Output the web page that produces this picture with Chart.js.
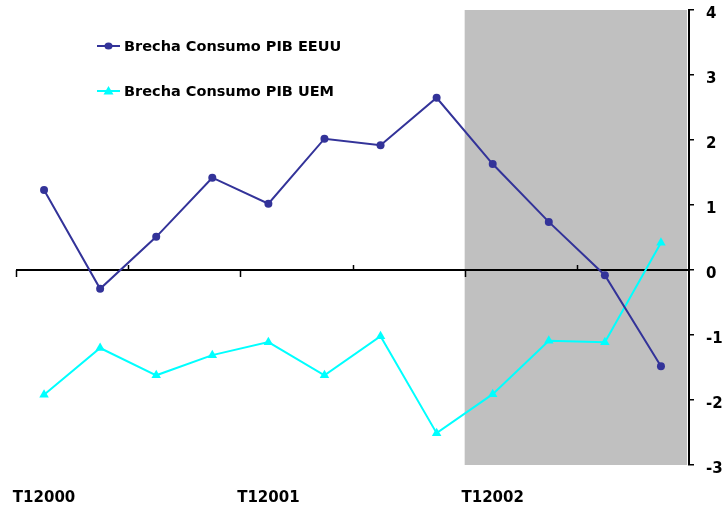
<!DOCTYPE html>
<html><head><meta charset="utf-8">
<script src="https://cdn.jsdelivr.net/npm/chart.js@4"></script>
<style>html,body{margin:0;padding:0;background:#fff;}#wrap{width:728px;height:508px;}</style>
</head><body><div id="wrap"><canvas id="c" width="728" height="508"></canvas></div>
<script>
const categories = ['T12000','T22000','T32000','T42000','T12001','T22001','T32001','T42001','T12002','T22002','T32002','T42002'];
const shownLabels = ['T12000','T12001','T12002'];
const eeuu = [1.23, -0.29, 0.51, 1.42, 1.02, 2.02, 1.92, 2.65, 1.63, 0.74, -0.08, -1.48];
const uem = [-1.92, -1.2, -1.62, -1.31, -1.11, -1.62, -1.02, -2.51, -1.91, -1.09, -1.11, 0.42];
const yTicks = [4, 3, 2, 1, 0, -1, -2, -3];
const seriesNames = ['Brecha Consumo PIB EEUU', 'Brecha Consumo PIB UEM'];
const shadeFrom = 'T12002';

const FONT = 'DejaVu Sans';
const navy = '#333399', cyan = '#00FFFF';

const decor = {
  id: 'decor',
  beforeDatasetsDraw(chart) {
    const {ctx, chartArea: a, scales: {x, y}} = chart;
    ctx.save();
    const idx = categories.indexOf(shadeFrom);
    const sx = x.getPixelForValue(idx - 0.5);
    ctx.fillStyle = '#C0C0C0';
    ctx.fillRect(sx, a.top, a.right - 2 - sx, a.bottom - a.top);
    const y0 = y.getPixelForValue(0);
    ctx.strokeStyle = '#000'; ctx.lineWidth = 2;
    ctx.beginPath(); ctx.moveTo(a.left, y0); ctx.lineTo(a.right, y0); ctx.stroke();
    ctx.lineWidth = 1.5;
    for (let i = 0; i < categories.length; i += 2) {
      const px = Math.round(x.getPixelForValue(i - 0.5)) + 0.5;
      const down = (i % 4 === 0);
      ctx.beginPath(); ctx.moveTo(px, y0); ctx.lineTo(px, down ? y0 + 7 : y0 - 5); ctx.stroke();
    }
    ctx.restore();
  },
  afterDraw(chart) {
    const {ctx} = chart;
    ctx.save();
    ctx.font = 'bold 14.5px "' + FONT + '"';
    ctx.textBaseline = 'middle';
    const rows = [{y: 46, c: navy, s: 'circle', r: 3.5}, {y: 91, c: cyan, s: 'triangle', r: 5}];
    rows.forEach((row, i) => {
      ctx.strokeStyle = row.c; ctx.lineWidth = 2;
      ctx.beginPath(); ctx.moveTo(97, row.y); ctx.lineTo(120, row.y); ctx.stroke();
      ctx.fillStyle = row.c;
      if (row.s === 'circle') { ctx.beginPath(); ctx.ellipse(108.5, row.y, 4, 3.5, 0, 0, Math.PI*2); ctx.fill(); }
      else { ctx.beginPath(); ctx.moveTo(108.5, row.y - 5); ctx.lineTo(113.5, row.y + 3.5); ctx.lineTo(103.5, row.y + 3.5); ctx.closePath(); ctx.fill(); }
      ctx.fillStyle = '#000';
      ctx.fillText(seriesNames[i], 124, row.y + 1);
    });
    ctx.restore();
  }
};

new Chart(document.getElementById('c'), {
  type: 'line',
  data: {
    labels: categories,
    datasets: [
      {label: seriesNames[0], data: eeuu, borderColor: navy, backgroundColor: navy, borderWidth: 2,
       pointStyle: 'circle', pointRadius: 4, pointBorderWidth: 0, tension: 0},
      {label: seriesNames[1], data: uem, borderColor: cyan, backgroundColor: cyan, borderWidth: 2,
       pointStyle: 'triangle', pointRadius: 5.5, pointBorderWidth: 0, tension: 0}
    ]
  },
  options: {
    responsive: false, animation: false, devicePixelRatio: 1,
    layout: {padding: {left: 16, top: 10, right: 0, bottom: 0}},
    plugins: {legend: {display: false}, tooltip: {enabled: false}},
    scales: {
      x: {
        type: 'category', offset: true,
        grid: {display: false}, border: {display: false},
        ticks: {autoSkip: false, maxRotation: 0, padding: 16, color: '#000',
          font: {family: FONT, size: 15, weight: 'bold'},
          callback(v, i) { const l = categories[i]; return shownLabels.includes(l) ? l : ''; }},
        afterFit(s) { s.height = 43; s.paddingLeft = 0; s.paddingRight = 0; }
      },
      y: {
        position: 'right', min: -3, max: 4,
        afterBuildTicks(s) { s.ticks = yTicks.map(v => ({value: v})); },
        grid: {display: true, drawOnChartArea: false, drawTicks: true, tickLength: 5, color: '#000', lineWidth: 1.5},
        border: {display: true, color: '#000', width: 2},
        ticks: {padding: 12, labelOffset: 4, color: '#000', font: {family: FONT, size: 15, weight: 'bold'}},
        afterFit(s) { s.width = 39; s.paddingTop = 0; s.paddingBottom = 0; }
      }
    }
  },
  plugins: [decor]
});
</script></body></html>
